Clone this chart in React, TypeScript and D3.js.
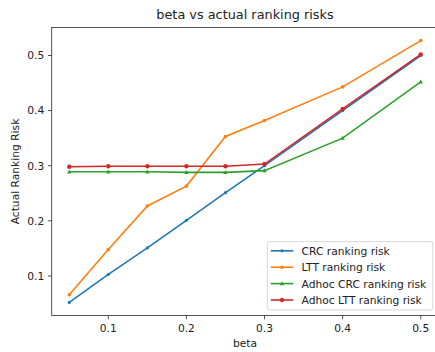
import React from "react";
import * as d3 from "d3";

const betas = [0.05, 0.1, 0.15, 0.2, 0.25, 0.3, 0.4, 0.5];
const crcRisk = [0.052, 0.103, 0.151, 0.201, 0.251, 0.3, 0.4, 0.5];
const lttRisk = [0.066, 0.148, 0.227, 0.263, 0.353, 0.382, 0.443, 0.527];
const adhocCrcRisk = [0.289, 0.289, 0.289, 0.288, 0.288, 0.291, 0.35, 0.452];
const adhocLttRisk = [0.298, 0.299, 0.299, 0.299, 0.299, 0.303, 0.403, 0.502];
const seriesNames = ["CRC ranking risk", "LTT ranking risk", "Adhoc CRC ranking risk", "Adhoc LTT ranking risk"];
const seriesColors = ["#1f77b4", "#ff7f0e", "#2ca02c", "#d62728"];
const seriesMarkers = ["point", "plus", "triangle", "circle"];
const xTicks = [0.1, 0.2, 0.3, 0.4, 0.5];
const yTicks = [0.1, 0.2, 0.3, 0.4, 0.5];

const W = 435;
const H = 352;
const left = 51.7;
const right = 438.3;
const top = 27.5;
const bottom = 315.5;
const font = "DejaVu Sans, sans-serif";
const fs = 10.7;
const titleFs = 12.85;

const x = d3.scaleLinear().domain([0.0275, 0.5225]).range([left, right]);
const y = d3.scaleLinear().domain([0.02825, 0.55075]).range([bottom, top]);

function Marker({ kind, cx, cy, color }: { kind: string; cx: number; cy: number; color: string }) {
  if (kind === "point") return <circle cx={cx} cy={cy} r={1.6} fill={color} />;
  if (kind === "circle") return <circle cx={cx} cy={cy} r={2.2} fill={color} />;
  if (kind === "triangle")
    return <path d={`M${cx},${cy - 2.4}L${cx + 2.2},${cy + 1.6}L${cx - 2.2},${cy + 1.6}Z`} fill={color} />;
  return <circle cx={cx} cy={cy} r={1.8} fill={color} />;
}

export default function App() {
  const series = [crcRisk, lttRisk, adhocCrcRisk, adhocLttRisk];
  const line = d3
    .line<number>()
    .x((_, i) => x(betas[i]))
    .y((d) => y(d));

  const legX = 267.3;
  const legY = 241.6;
  const legW = 165.5;
  const legH = 68.4;

  return (
    <svg width={W} height={H} style={{ position: "absolute", left: 0, top: 0 }} fontFamily={font}>
      <rect width={W} height={H} fill="#fff" />
      <defs>
        <clipPath id="plot">
          <rect x={left} y={top} width={right - left} height={bottom - top} />
        </clipPath>
      </defs>
      <text x={(left + right) / 2} y={18.6} textAnchor="middle" fontSize={titleFs} fill="#222">
        beta vs actual ranking risks
      </text>
      <g clipPath="url(#plot)">
        {series.map((vals, si) => (
          <g key={si}>
            <path d={line(vals) || ""} fill="none" stroke={seriesColors[si]} strokeWidth={1.6} />
            {vals.map((v, i) => (
              <Marker key={i} kind={seriesMarkers[si]} cx={x(betas[i])} cy={y(v)} color={seriesColors[si]} />
            ))}
          </g>
        ))}
      </g>
      <rect x={left} y={top} width={right - left} height={bottom - top} fill="none" stroke="#333" strokeWidth={0.85} />
      {xTicks.map((t) => (
        <g key={t}>
          <line x1={x(t)} x2={x(t)} y1={bottom} y2={bottom + 3.75} stroke="#333" strokeWidth={0.85} />
          <text x={x(t)} y={bottom + 16.2} textAnchor="middle" fontSize={fs} fill="#222">
            {t.toFixed(1)}
          </text>
        </g>
      ))}
      {yTicks.map((t) => (
        <g key={t}>
          <line x1={left - 3.75} x2={left} y1={y(t)} y2={y(t)} stroke="#333" strokeWidth={0.85} />
          <text x={left - 7.5} y={y(t) + 3.9} textAnchor="end" fontSize={fs} fill="#222">
            {t.toFixed(1)}
          </text>
        </g>
      ))}
      <text x={(left + right) / 2} y={346.5} textAnchor="middle" fontSize={fs} fill="#222">
        beta
      </text>
      <text
        transform={`translate(18.5,${(top + bottom) / 2}) rotate(-90)`}
        textAnchor="middle"
        fontSize={fs}
        fill="#222"
      >
        Actual Ranking Risk
      </text>
      <rect x={legX} y={legY} width={legW} height={legH} rx={2.5} fill="#fff" fillOpacity={0.8} stroke="#d0d0d0" strokeWidth={0.85} />
      {seriesNames.map((name, i) => {
        const cy = legY + 9.2 + i * 16.4;
        return (
          <g key={name}>
            <line x1={legX + 3.5} x2={legX + 26} y1={cy} y2={cy} stroke={seriesColors[i]} strokeWidth={1.6} />
            <Marker kind={seriesMarkers[i]} cx={legX + 14.7} cy={cy} color={seriesColors[i]} />
            <text x={legX + 34.3} y={cy + 3.9} fontSize={fs} fill="#222">
              {name}
            </text>
          </g>
        );
      })}
    </svg>
  );
}
